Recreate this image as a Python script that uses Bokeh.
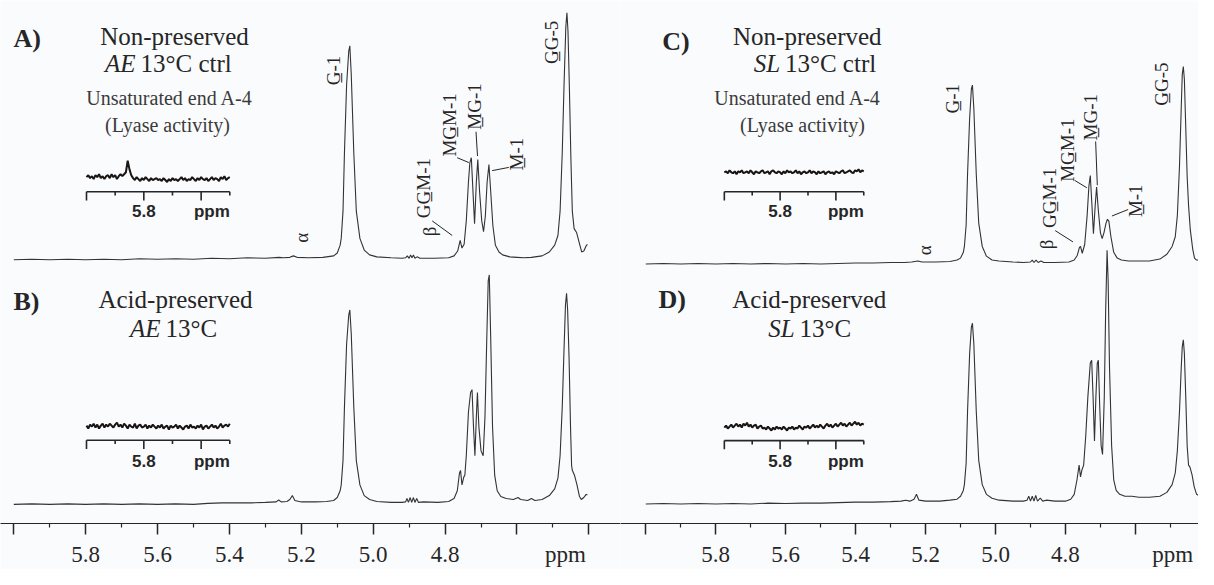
import numpy as np
from bokeh.plotting import figure
from bokeh.layouts import row
from bokeh.models import Range1d, LinearAxis, FixedTicker, CustomJSTickFormatter
from bokeh.core.properties import value
from bokeh.embed import file_html
from bokeh.resources import INLINE

# ---------------------------------------------------------------- data
MAJOR_TICKS = [6.0, 5.8, 5.6, 5.4, 5.2, 5.0, 4.8, 4.6, 4.4]
MINOR_TICKS = [5.9, 5.7, 5.5, 5.3, 5.1, 4.9, 4.7, 4.5]
TICK_LABELS = ["5.8", "5.6", "5.4", "5.2", "5.0", "4.8"]
INSET_MAJOR = [5.9, 5.8, 5.7]
INSET_MINOR = [5.85, 5.75, 5.65]
INSET_RANGE = [5.9, 5.65]
INSET_LABEL = 5.8

# A) Non-preserved AE 13C ctrl  (ppm, intensity above baseline)
A_PPM = [6.000, 5.950, 5.900, 5.850, 5.800, 5.750, 5.700, 5.650, 5.600, 5.550,
         5.500, 5.450, 5.400, 5.350, 5.300, 5.262, 5.250, 5.232, 5.222, 5.212,
         5.180, 5.140, 5.110, 5.100, 5.092, 5.089, 5.084, 5.080, 5.074, 5.068,
         5.065, 5.061, 5.054, 5.047, 5.037, 5.025, 5.010, 4.990, 4.950, 4.920,
         4.910, 4.905, 4.900, 4.896, 4.892, 4.888, 4.884, 4.878, 4.870, 4.830,
         4.790, 4.775, 4.765, 4.758, 4.753, 4.747, 4.741, 4.735, 4.731, 4.727,
         4.723, 4.718, 4.713, 4.709, 4.704, 4.698, 4.693, 4.688, 4.683, 4.678,
         4.673, 4.667, 4.660, 4.650, 4.640, 4.620, 4.600, 4.580, 4.560, 4.530,
         4.510, 4.495, 4.486, 4.480, 4.474, 4.469, 4.464, 4.461, 4.458, 4.454,
         4.450, 4.446, 4.441, 4.434, 4.427, 4.420, 4.414, 4.408, 4.404]
A_INT = [0, 0.5, 0, 0.5, 0, 0.5, 0, 1, 0.5, 1,
         0.5, 1.5, 1, 2, 1.5, 2.5, 2, 2.5, 4, 2.5,
         2, 2.5, 4, 7, 15, 22, 50, 110, 180, 215,
         220, 190, 110, 50, 22, 10, 5, 3, 2, 1.5,
         2, 4, 1.5, 5, 2, 5, 1.5, 3, 1.5, 1.5,
         2, 4, 9, 20, 12, 16, 40, 80, 100, 105,
         75, 37, 80, 103, 70, 40, 29, 45, 80, 98,
         70, 35, 15, 8, 5, 3, 2.5, 2, 2.5, 4,
         8, 15, 25, 50, 110, 180, 240, 254, 235, 175,
         105, 50, 32, 28, 18, 8, 9, 14, 16]

# B) Acid-preserved AE 13C
B_PPM = [6.000, 5.950, 5.900, 5.850, 5.800, 5.750, 5.700, 5.650, 5.600, 5.550,
         5.500, 5.460, 5.420, 5.380, 5.340, 5.300, 5.270, 5.263, 5.256, 5.240,
         5.232, 5.225, 5.218, 5.200, 5.160, 5.130, 5.110, 5.100, 5.092, 5.089,
         5.084, 5.080, 5.074, 5.068, 5.065, 5.061, 5.054, 5.047, 5.037, 5.025,
         5.010, 4.990, 4.950, 4.920, 4.910, 4.906, 4.902, 4.897, 4.893, 4.888,
         4.884, 4.879, 4.874, 4.860, 4.820, 4.790, 4.775, 4.766, 4.760, 4.757,
         4.753, 4.748, 4.745, 4.741, 4.735, 4.729, 4.725, 4.721, 4.717, 4.713,
         4.710, 4.706, 4.700, 4.694, 4.689, 4.684, 4.680, 4.677, 4.673, 4.668,
         4.662, 4.655, 4.645, 4.630, 4.610, 4.597, 4.590, 4.570, 4.560, 4.550,
         4.530, 4.510, 4.495, 4.486, 4.480, 4.474, 4.469, 4.465, 4.462, 4.459,
         4.455, 4.451, 4.448, 4.446, 4.440, 4.433, 4.426, 4.421, 4.414, 4.408,
         4.404]
B_INT = [0, 0.5, 0, 0.5, 0, 0.5, 0, 0.5, 0, 0.5,
         0, 1, 1.5, 1.5, 1.5, 2, 2.5, 4.5, 2.5, 3,
         5, 9, 4, 2.5, 2.5, 3, 4, 7, 14, 20,
         45, 100, 165, 195, 200, 175, 100, 45, 20, 9,
         5, 3, 2, 2, 2.5, 6, 2, 7, 2, 7,
         2, 6, 2, 2.5, 2, 3, 6, 14, 32, 35,
         20, 28, 30, 50, 95, 115, 118, 80, 50, 90,
         115, 80, 55, 50, 90, 170, 230, 236, 170, 80,
         30, 14, 8, 6, 5, 7, 5, 4, 6, 4,
         5, 9, 16, 27, 50, 100, 160, 205, 217, 200,
         150, 80, 40, 35, 30, 20, 8, 5, 7, 10,
         10]

# C) Non-preserved SL 13C ctrl
C_PPM = [6.000, 5.950, 5.900, 5.850, 5.800, 5.750, 5.700, 5.650, 5.600, 5.550,
         5.500, 5.450, 5.400, 5.350, 5.300, 5.260, 5.240, 5.222, 5.210, 5.170,
         5.130, 5.110, 5.100, 5.092, 5.089, 5.084, 5.080, 5.074, 5.069, 5.066,
         5.062, 5.055, 5.048, 5.038, 5.026, 5.010, 4.990, 4.950, 4.920, 4.900,
         4.895, 4.890, 4.884, 4.878, 4.870, 4.862, 4.830, 4.790, 4.775, 4.766,
         4.760, 4.757, 4.752, 4.745, 4.738, 4.733, 4.729, 4.725, 4.720, 4.715,
         4.711, 4.706, 4.700, 4.695, 4.690, 4.684, 4.680, 4.676, 4.670, 4.662,
         4.652, 4.640, 4.620, 4.600, 4.580, 4.560, 4.530, 4.510, 4.495, 4.486,
         4.480, 4.474, 4.469, 4.466, 4.463, 4.460, 4.456, 4.452, 4.448, 4.443,
         4.436, 4.431, 4.425, 4.415]
C_INT = [0, 0.5, 0, 0.5, 0, 0.5, 0, 0.5, 0, 0.5,
         0, 0.5, 1, 1, 1.5, 1.5, 2, 3, 2, 2,
         2.5, 4, 6, 12, 18, 40, 92, 150, 180, 184,
         160, 92, 42, 18, 8, 4, 3, 2, 1.5, 2,
         4, 1.5, 4, 1.5, 3, 1.5, 1.5, 2, 4, 9,
         17, 18, 11, 20, 50, 80, 91, 65, 31, 60,
         79, 55, 32, 26, 32, 42, 46, 44, 28, 12,
         6, 4, 3, 3, 3, 3, 5, 10, 18, 28,
         50, 100, 160, 195, 203, 190, 140, 90, 60, 35,
         15, 6, 4, 4]

# D) Acid-preserved SL 13C
D_PPM = [6.000, 5.950, 5.900, 5.850, 5.800, 5.750, 5.700, 5.650, 5.600, 5.550,
         5.500, 5.450, 5.400, 5.350, 5.300, 5.270, 5.257, 5.245, 5.233, 5.226,
         5.219, 5.200, 5.160, 5.130, 5.110, 5.100, 5.092, 5.089, 5.084, 5.080,
         5.074, 5.069, 5.066, 5.062, 5.055, 5.048, 5.038, 5.026, 5.010, 4.990,
         4.950, 4.920, 4.910, 4.905, 4.900, 4.895, 4.890, 4.885, 4.880, 4.872,
         4.865, 4.855, 4.830, 4.800, 4.785, 4.775, 4.767, 4.761, 4.757, 4.753,
         4.748, 4.742, 4.736, 4.729, 4.725, 4.721, 4.717, 4.713, 4.709, 4.706,
         4.702, 4.698, 4.694, 4.689, 4.685, 4.681, 4.678, 4.674, 4.668, 4.662,
         4.655, 4.645, 4.630, 4.610, 4.590, 4.560, 4.530, 4.510, 4.495, 4.486,
         4.480, 4.474, 4.469, 4.466, 4.463, 4.460, 4.456, 4.452, 4.448, 4.444,
         4.438, 4.432, 4.425, 4.415]
D_INT = [0, 0.5, 0, 0.5, 0, 0.5, 0, 1, 0.5, 1,
         1, 1.5, 2, 2, 2.5, 3, 4, 3, 5, 10,
         4, 3, 3, 4, 5, 8, 14, 20, 42, 95,
         155, 182, 186, 165, 95, 45, 20, 10, 6, 4,
         3, 3, 4, 8, 3, 8, 3, 9, 3, 6,
         3, 4, 3, 3, 5, 10, 25, 40, 28, 35,
         40, 70, 110, 145, 148, 110, 65, 110, 145, 148,
         100, 60, 51, 110, 200, 261, 230, 140, 60, 25,
         14, 10, 8, 8, 7, 7, 8, 12, 20, 32,
         55, 95, 140, 162, 169, 155, 110, 60, 40, 38,
         30, 18, 10, 8]

# insets: unsaturated end A-4 region (5.90 -> 5.65 ppm), read trace
A_INSET = [0, 2, -1, 1, -2, 2, 0, 3, -1, 1, -2, 1, 2, -1, 3, 0, 2, -2, 1, 3,
           1, 3, 5, 17, 8, 2, -1, -3, 0, -2, -4, -1, -3, 0, -2, -4, -1, -3, -2, -1,
           -3, -2, -4, -1, -3, -5, -2, -4, -1, -3, -2, -4, -2, 0, -3, -1, -4, -2, -3, 0,
           -2, -4, -1, -3, 0, -2, -3, -1, -4, -2, 0, -3, -1, -2, -4, 0, -2, 1, -3, -1, 0]
B_INSET = [1, -2, 2, 0, 3, -1, 2, -2, 1, 3, -1, 2, 0, 3, 1, -1, 2, 4, 0, 2,
           -1, 3, 1, -2, 2, 0, -1, 3, -2, 1, 2, -1, 0, 2, -2, 1, -1, 2, 0, -2,
           1, -1, 2, -2, 0, 1, -3, 1, -1, 0, 2, -2, 1, -1, -3, 0, 1, -2, 2, -1,
           0, -2, 1, -1, 2, -3, 0, 1, -2, 0, 2, -1, 1, -2, 0, 3, -1, 1, 2, 0, 3]
C_INSET = [0, 1, -1, 2, 0, -1, 1, -2, 1, 0, 2, -1, 0, 1, -1, 2, 0, -2, 1, 0,
           -1, 1, 2, -1, 0, 1, -2, 1, 2, 0, -1, 1, 0, -2, 1, -1, 2, 0, 1, -1,
           0, 2, -1, 1, -2, 0, 1, -1, 0, 2, -1, 1, 0, -2, 1, -1, 0, 1, -2, 0,
           1, -1, 0, -2, 1, 0, -1, 1, 2, -1, 0, 1, 2, 0, -1, 2, 1, 3, 0, 2, 1]
D_INSET = [-1, 1, -2, 0, 2, -1, 1, 3, 0, 2, -1, 3, 1, 4, 0, 2, -1, 1, 2, -2,
           0, 1, -2, -1, -3, 0, -2, -4, -1, -3, 0, -2, -1, -3, 0, -2, -4, -1, -2, 0,
           -3, -1, -2, 1, -1, -3, 0, -1, 1, -2, 0, 2, -1, 1, -1, 2, 0, -2, 1, 3,
           0, 2, -1, 1, 3, 0, 2, 4, 1, 3, 0, 2, 4, 1, 3, 5, 2, 4, 1, 3, 2]

PEAK_LABELS = ["G\u0332-1", "G\u0332G-5", "MG\u0332M-1", "M\u0332G-1", "M\u0332-1",
               "GG\u0332M-1", "\u03b2", "\u03b1"]

# ---------------------------------------------------------------- style
BG = "#fafbfd"
INK = "#262626"
LINE = "#333333"
SERIF = "Liberation Serif"
SANS = "Liberation Sans"
PX_PER_PPM = 359.4          # reference-picture pixels per ppm (main axis)
INSET_PX_PER_PPM = 573.2    # reference-picture pixels per ppm (inset axis)
FIG_H = 569
AXIS_REF_Y = 538            # reference y of the main axis line
BORDER_B = 46


def tick_formatter(ppm_tick, pad, lead):
    labels = ",".join("'%s'" % t for t in TICK_LABELS)
    nb = "'\\u00a0'.repeat(%d)" % pad
    word = ("%s + 'ppm'" % nb) if lead else ("'ppm' + %s" % nb)
    code = ("const keep = [%s];\n"
            "const s = tick.toFixed(1);\n"
            "if (Math.abs(tick - %f) < 1e-6) { return %s; }\n"
            "return keep.includes(s) ? s : '';") % (labels, ppm_tick, word)
    return CustomJSTickFormatter(code=code)


def make_column(left_ref, right_ref, width, ppm6_ref, inset59_ref, top, bottom, cfg):
    def X(ix):
        return 6.0 - (ix - ppm6_ref) / PX_PER_PPM

    def IX(ix):
        return 5.9 - (ix - inset59_ref) / INSET_PX_PER_PPM

    def Y(iy):
        return AXIS_REF_Y - iy

    p = figure(width=width, height=FIG_H,
               x_range=Range1d(X(left_ref), X(right_ref)),
               y_range=Range1d(0, AXIS_REF_Y),
               output_backend="svg", toolbar_location=None,
               x_axis_location=None, y_axis_location=None,
               min_border_left=0, min_border_right=0, min_border_top=0,
               min_border_bottom=BORDER_B,
               background_fill_color=BG, border_fill_color=BG,
               outline_line_color=None)
    p.extra_x_ranges = {"inset": Range1d(IX(left_ref), IX(right_ref))}
    p.grid.visible = False

    ax = LinearAxis(ticker=FixedTicker(ticks=MAJOR_TICKS, minor_ticks=MINOR_TICKS),
                    formatter=tick_formatter(*cfg["ppm_tick"]))
    ax.axis_line_color = INK
    ax.axis_line_width = 1.2
    ax.major_tick_line_color = INK
    ax.major_tick_line_width = 1.5
    ax.major_tick_in = 0
    ax.major_tick_out = 11
    ax.minor_tick_line_color = INK
    ax.minor_tick_line_width = 1.2
    ax.minor_tick_in = 0
    ax.minor_tick_out = 4
    ax.major_label_standoff = 7
    ax.major_label_text_font = SERIF
    ax.major_label_text_font_size = "23px"
    ax.major_label_text_color = INK
    p.add_layout(ax, "below")

    # spectra
    for (ppm, inten, base) in [top, bottom]:
        p.line(ppm, np.array(inten, dtype=float) + Y(base), line_color=LINE, line_width=1.1)

    # insets
    for (trace, trace_y, axis_y, label_y) in cfg["insets"]:
        xs = np.linspace(INSET_RANGE[0], INSET_RANGE[1], len(trace))
        p.line(xs, np.array(trace, dtype=float) + Y(trace_y), x_range_name="inset",
               line_color="#1a1512", line_width=2.0)
        p.segment(x0=[INSET_RANGE[0]], y0=[Y(axis_y)], x1=[INSET_RANGE[1]], y1=[Y(axis_y)],
                  x_range_name="inset", line_color=INK, line_width=1.6)
        p.segment(x0=INSET_MAJOR, y0=[Y(axis_y)] * 3, x1=INSET_MAJOR, y1=[Y(axis_y) - 9] * 3,
                  x_range_name="inset", line_color=INK, line_width=1.6)
        p.segment(x0=INSET_MINOR, y0=[Y(axis_y)] * 3, x1=INSET_MINOR, y1=[Y(axis_y) - 4] * 3,
                  x_range_name="inset", line_color=INK, line_width=1.6)
        p.text(x=[INSET_LABEL], y=[Y(label_y)], text=["5.8"], x_range_name="inset",
               text_font=value(SANS), text_font_style="bold", text_font_size="17px",
               text_color=INK, text_align="center", text_baseline="middle")
        p.text(x=[INSET_RANGE[1]], y=[Y(label_y)], text=["ppm"], x_range_name="inset",
               text_font=value(SANS), text_font_style="bold", text_font_size="17px",
               text_color=INK, text_align="right", text_baseline="middle")

    # panel letters
    p.text(x=[X(v[0]) for v in cfg["letters"]], y=[Y(v[1]) for v in cfg["letters"]],
           text=[v[2] for v in cfg["letters"]], text_font=value(SERIF),
           text_font_style="bold", text_font_size="26px", text_color=INK,
           text_align="left", text_baseline="middle")
    # titles
    p.text(x=[X(v[0]) for v in cfg["titles"]], y=[Y(v[1]) for v in cfg["titles"]],
           text=[v[2] for v in cfg["titles"]], text_font=value(SERIF),
           text_font_size="25px", text_color=INK, text_align="center", text_baseline="middle")
    p.text(x=[X(v[0]) for v in cfg["italic"]], y=[Y(v[1]) for v in cfg["italic"]],
           text=[v[2] for v in cfg["italic"]], text_font=value(SERIF), text_font_style="italic",
           text_font_size="25px", text_color=INK, text_align="right", text_baseline="middle")
    p.text(x=[X(v[0]) for v in cfg["after"]], y=[Y(v[1]) for v in cfg["after"]],
           text=[v[2] for v in cfg["after"]], text_font=value(SERIF),
           text_font_size="25px", text_color=INK, text_align="left", text_baseline="middle")
    p.text(x=[X(v[0]) for v in cfg["notes"]], y=[Y(v[1]) for v in cfg["notes"]],
           text=[v[2] for v in cfg["notes"]], text_font=value(SERIF),
           text_font_size="20px", text_color="#3a3a3a", text_align="center", text_baseline="middle")
    # peak labels (rotated)
    p.text(x=[X(v[0]) for v in cfg["peaks"]], y=[Y(v[1]) for v in cfg["peaks"]],
           text=PEAK_LABELS, angle=np.pi / 2, text_font=value(SERIF),
           text_font_size="19px", text_color=INK, text_align="center", text_baseline="middle")
    lead = cfg["leaders"]
    p.segment(x0=[X(l[0]) for l in lead], y0=[Y(l[1]) for l in lead],
              x1=[X(l[2]) for l in lead], y1=[Y(l[3]) for l in lead],
              line_color=INK, line_width=1)
    return p


left_cfg = dict(
    ppm_tick=(4.4, 6, False),
    insets=[(A_INSET, 181.7, 196.7, 216.7), (B_INSET, 438.3, 452.3, 474)],
    letters=[(13, 39, "A)"), (13, 310, "B)")],
    titles=[(174, 37, "Non-preserved"), (175, 308, "Acid-preserved")],
    italic=[(135, 65, "AE"), (160, 337, "AE")],
    after=[(140, 65, "13°C ctrl"), (165, 337, "13°C")],
    notes=[(169, 100, "Unsaturated end A-4"), (167, 128, "(Lyase activity)")],
    peaks=[(333, 72), (551, 43), (449, 128), (474, 109), (516, 158), (422.5, 193),
           (429, 237.5), (301, 244)],
    leaders=[(456.7, 161.7, 468.3, 166.7), (475.5, 135, 477, 160),
             (508.3, 171.7, 491.7, 175), (431.7, 226.7, 451.7, 241.7)],
)

right_cfg = dict(
    ppm_tick=(4.6, 13, True),
    insets=[(C_INSET, 176.7, 196.7, 216.7), (D_INSET, 438.3, 452.7, 474)],
    letters=[(663, 42, "C)"), (659, 308, "D)")],
    titles=[(812, 37, "Non-preserved"), (814, 308, "Acid-preserved")],
    italic=[(784, 65, "SL"), (799, 337, "SL")],
    after=[(789, 65, "13°C ctrl"), (804, 337, "13°C")],
    notes=[(802, 100, "Unsaturated end A-4"), (807, 128, "(Lyase activity)")],
    peaks=[(961, 101), (1176, 86), (1079, 154), (1102.5, 120), (1149, 206), (1061, 203),
           (1057.5, 251), (932, 257)],
    leaders=[(1086.7, 185, 1099.3, 192.7), (1108.3, 145, 1110, 190),
             (1141.7, 215, 1125, 221.7), (1066.7, 236.7, 1085, 248.3)],
)

p_left = make_column(0, 620, 620, 13.3, 86, (A_PPM, A_INT, 266.7), (B_PPM, B_INT, 518.3), left_cfg)
p_right = make_column(620, 1214, 578, 646, 726.7, (C_PPM, C_INT, 271), (D_PPM, D_INT, 518), right_cfg)

layout = row(p_left, p_right, spacing=0)
open("out.html", "w").write(file_html(layout, INLINE))
